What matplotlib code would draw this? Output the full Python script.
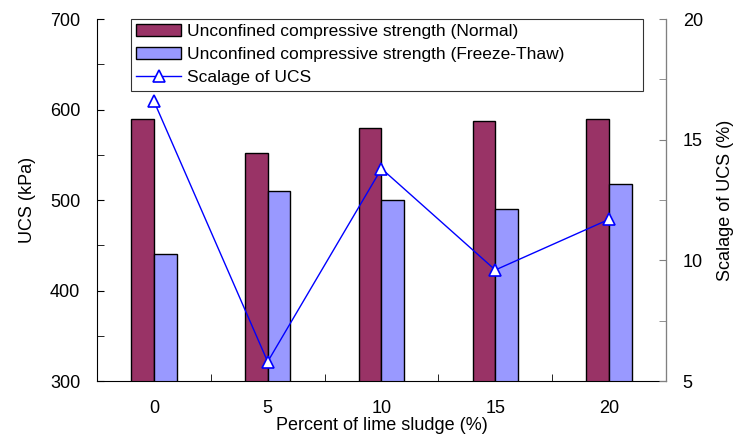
import numpy as np
import matplotlib.pyplot as plt
from matplotlib.ticker import MultipleLocator

plt.rcParams['font.family'] = ['Liberation Sans', 'DejaVu Sans']

lime = ['0', '5', '10', '15', '20']
ucs_normal = [590, 552, 580, 587, 589]
ucs_ft = [440, 510, 500, 490, 518]
scalage = [16.6, 5.8, 13.8, 9.6, 11.7]

fig = plt.figure(figsize=(7.33, 4.45), dpi=100)
ax = fig.add_axes([0.1323, 0.1438, 0.7763, 0.8135])
ax2 = ax.twinx()

x = np.arange(len(lime))
w = 0.2
b1 = ax.bar(x - w, ucs_normal, w, align='edge', color='#993366', edgecolor='black', lw=1,
            label='Unconfined compressive strength (Normal)')
b2 = ax.bar(x, ucs_ft, w, align='edge', color='#9999FF', edgecolor='black', lw=1,
            label='Unconfined compressive strength (Freeze-Thaw)')
l1, = ax2.plot(x, scalage, color='#0000FF', lw=1, marker='^', ms=8, mfc='white',
               mec='#0000FF', mew=1.2, label='Scalage of UCS')

ax.set_xlim(-0.5, 4.5)
ax.set_ylim(300, 700)
ax2.set_ylim(5, 20)

ax.set_xticks(x)
ax.set_xticklabels(lime)
ax.set_xticks(np.arange(0.5, 4.0, 1), minor=True)
ax.tick_params(axis='x', which='major', length=0, pad=14, labelsize=13)
ax.tick_params(axis='x', which='minor', direction='in', length=5, color='black')
ax.yaxis.set_major_locator(MultipleLocator(100))
ax.yaxis.set_minor_locator(MultipleLocator(50))
ax.tick_params(axis='y', which='both', direction='in', length=5, pad=12, labelsize=13)
ax2.yaxis.set_major_locator(MultipleLocator(5))
ax2.yaxis.set_minor_locator(MultipleLocator(2.5))
ax2.tick_params(axis='y', which='both', direction='in', length=5, pad=12, labelsize=13,
                color='#808080')

for a in (ax, ax2):
    a.spines['top'].set_visible(False)
ax2.spines['right'].set_color('#808080')
ax2.spines['left'].set_visible(False)
ax2.spines['bottom'].set_visible(False)

ax.set_xlabel('Percent of lime sludge (%)', fontsize=13, labelpad=0)
ax.set_ylabel('UCS (kPa)', fontsize=13, labelpad=10)
ax2.set_ylabel('Scalage of UCS (%)', fontsize=13, labelpad=10)

leg = ax2.legend([b1, b2, l1], [b1.get_label(), b2.get_label(), l1.get_label()],
                 loc='upper left', bbox_to_anchor=(0.06, 0.798, 0.9, 0.202), mode='expand',
                 fontsize=12.5, frameon=True, fancybox=False, borderpad=0.3,
                 labelspacing=0.45, handlelength=2.6, handletextpad=0.3,
                 borderaxespad=0)
leg.get_frame().set_edgecolor('black')
leg.get_frame().set_linewidth(0.8)

fig.savefig('out.png', dpi=100)
